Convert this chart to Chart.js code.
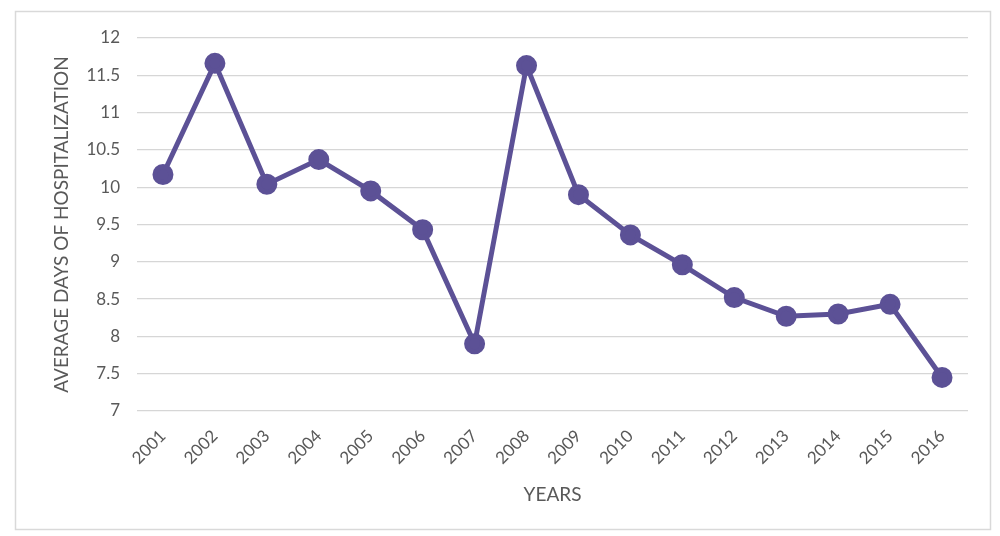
<!DOCTYPE html>
<html>
<head>
<meta charset="utf-8">
<script src="https://cdn.jsdelivr.net/npm/chart.js@4/dist/chart.umd.min.js"></script>
<style>
  html, body { margin: 0; padding: 0; background: #ffffff; }
  #wrap { position: relative; width: 1000px; height: 536px; }
</style>
</head>
<body>
<div id="wrap"><canvas id="chart" width="1000" height="536"></canvas></div>
<script>
// Average length of hospital stay per year
const years = ['2001','2002','2003','2004','2005','2006','2007','2008',
               '2009','2010','2011','2012','2013','2014','2015','2016'];
const avgDays = [10.17, 11.66, 10.04, 10.37, 9.95, 9.43, 7.9, 11.63,
                 9.9, 9.36, 8.96, 8.52, 8.27, 8.3, 8.43, 7.45];
const yTicks = [7, 7.5, 8, 8.5, 9, 9.5, 10, 10.5, 11, 11.5, 12];

const textColor = '#595959';
const tickFont = { family: 'Lato, "Open Sans", sans-serif', size: 17 };
const titleFont = { family: 'Lato, "Open Sans", sans-serif', size: 19 };

// light frame around the whole chart
const frame = {
  id: 'frame',
  beforeDraw(chart) {
    const c = chart.ctx;
    c.save();
    c.fillStyle = '#ffffff';
    c.fillRect(0, 0, chart.width, chart.height);
    c.strokeStyle = '#d9d9d9';
    c.lineWidth = 1.5;
    c.strokeRect(15.5, 11.5, 975, 518);
    c.restore();
  }
};

new Chart(document.getElementById('chart'), {
  type: 'line',
  data: {
    labels: years,
    datasets: [{
      data: avgDays,
      borderColor: '#5c5196',
      backgroundColor: '#5c5196',
      pointBackgroundColor: '#5c5196',
      pointBorderColor: '#5c5196',
      borderWidth: 5,
      pointRadius: 8,
      tension: 0,
      fill: false
    }]
  },
  options: {
    responsive: false,
    animation: false,
    layout: { padding: { left: 50, right: 32, top: 38, bottom: 30 } },
    plugins: { legend: { display: false }, tooltip: { enabled: false } },
    scales: {
      x: {
        offset: true,
        grid: { display: false },
        border: { display: false },
        ticks: { color: textColor, font: tickFont, minRotation: 45, maxRotation: 45, padding: 7 },
        title: { display: true, text: 'YEARS', color: textColor, font: titleFont, padding: { top: 0, bottom: 0 } },
        afterFit(scale) { scale.height = 95; }
      },
      y: {
        min: 7,
        max: 12,
        afterBuildTicks(scale) { scale.ticks = yTicks.map(v => ({ value: v })); },
        grid: { color: '#d6d6d6', lineWidth: 1.3, drawTicks: false },
        border: { display: false },
        ticks: { color: textColor, font: tickFont, padding: 17, callback: v => String(v) },
        title: { display: true, text: 'AVERAGE DAYS OF HOSPITALIZATION', color: textColor, font: titleFont, padding: 0 },
        afterFit(scale) { scale.width = 87; }
      }
    }
  },
  plugins: [frame]
});
</script>
</body>
</html>
